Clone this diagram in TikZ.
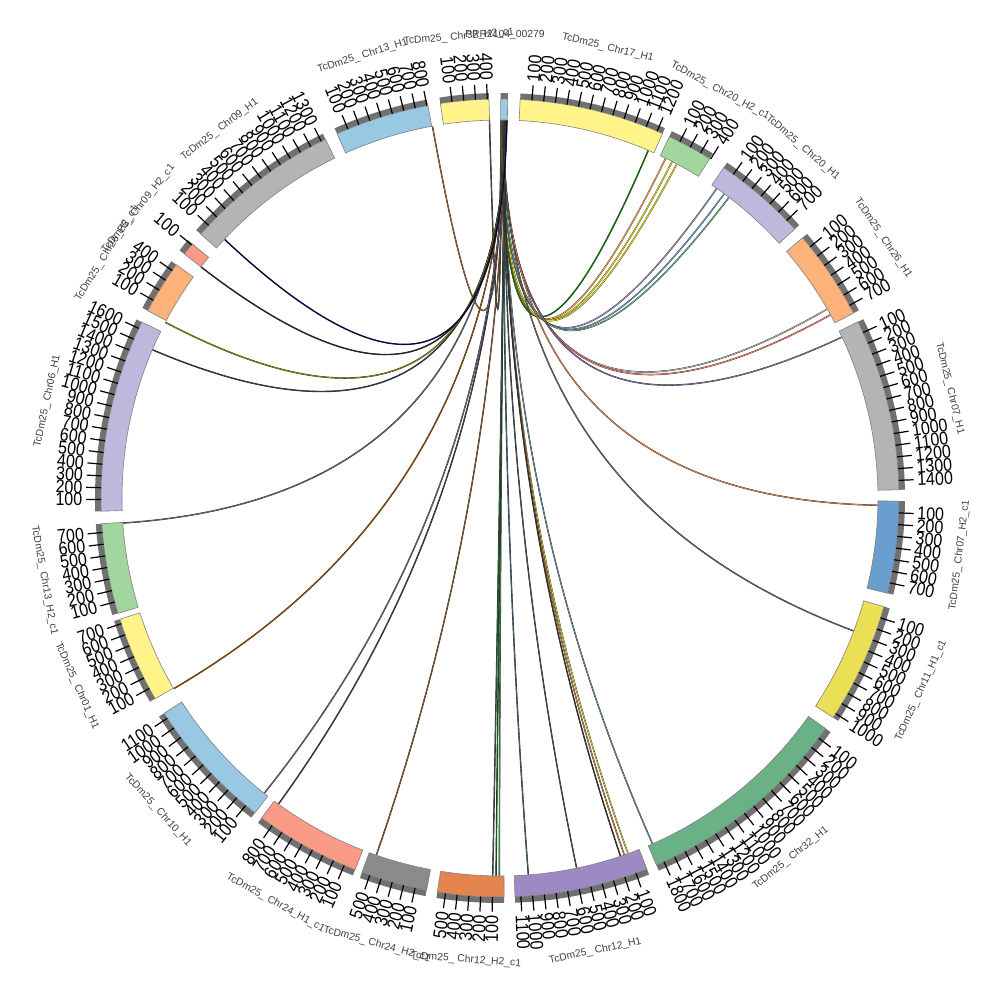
\documentclass[tikz,border=0pt]{standalone}
\usepackage{fontspec}
\setmainfont{Liberation Sans}
\newfontfamily\tickfont[FakeStretch=0.87]{Liberation Sans}

\definecolor{cprr}{HTML}{9DCAE3}
\definecolor{cyel}{HTML}{FFF38A}
\definecolor{cgrn}{HTML}{A1D79F}
\definecolor{clav}{HTML}{BDB9DC}
\definecolor{corg}{HTML}{FDB27A}
\definecolor{cgry}{HTML}{B4B4B4}
\definecolor{cblu}{HTML}{699ECF}
\definecolor{cmus}{HTML}{EADF55}
\definecolor{cdgn}{HTML}{6AB185}
\definecolor{cpur}{HTML}{9D89C3}
\definecolor{cred}{HTML}{E4844F}
\definecolor{cdgy}{HTML}{8B8B8B}
\definecolor{csal}{HTML}{FB9A86}
\definecolor{csky}{HTML}{98C8E2}
\definecolor{cband}{HTML}{707070}

\tikzset{
  seg/.style={draw=black!50, line width=0.6bp},
  band/.style={fill=cband},
  tickln/.style={line width=1.2bp, black},
  ticklab/.style={font=\tickfont\fontsize{18.5}{18.5}\selectfont, inner sep=0.5bp},
  chrlab/.style={font=\fontsize{10.4}{11}\selectfont, text=black!75, inner sep=0pt},
  link/.style={draw=black!85, line width=0.3bp, double=#1, double distance=0.8bp},
}

\begin{document}
\begin{tikzpicture}[x=1bp,y=1bp]
\fill[white] (-500,-502) rectangle (500,498);
\useasboundingbox (-500,-502) rectangle (500,498);
\def\degk{0.0169}

% links from PRR2104_00279
\foreach \tg/\lc [count=\i] in {
  100.3/brown!80!black, 91.6/black!70, 66.9/green!50!black, 64.0/orange!70,
  62.9/yellow!90!black, 62.1/yellow!90!black, 55.0/clav!80!black, 53.6/cblu,
  52.7/cdgn, 30.0/cgry, 29.0/csal!80!red, 25.2/cpur!80!black, -1.1/cred,
  -20.6/black!60, -66.2/csky!70!black, -70.2/cmus!90!black, -70.8/brown!70!orange,
  -71.4/black!80, -78.3/black!70, -85.7/cblu!60!black, -90.1/cdgn!70!black,
  -90.6/green!40!black, -91.1/cdgn!50!black, -109.1/brown!70!black, -125.9/black!75,
  -128.6/cpur!70!black, -149.7/orange!60!black, -176.2/black!60,
  156.9/cblu!40!black, 152.3/olive, 142.3/black!85, 136.8/blue!30!black}{
  \pgfmathsetmacro{\sa}{89.85-0.028*\i}
  \draw[link=\lc] (\sa:378) .. controls (\sa:126) and (\tg:126) .. (\tg:378);
}

% chromosome sectors
\foreach \st/\len/\nt/\col/\nm in {
  89.9/60/0/cprr/PRR2104\_00279,
  87.1/1250/12/cyel/TcDm25\_ Chr17\_H1,
  64.9/390/4/cgrn/TcDm25\_ Chr20\_H2\_c1,
  55.9/800/7/clav/TcDm25\_ Chr20\_H1,
  40.7/775/7/corg/TcDm25\_ Chr26\_H1,
  26.2/1480/14/cgry/TcDm25\_ Chr07\_H1,
  -0.45/790/7/cblu/TcDm25\_ Chr07\_H2\_c1,
  -15.8/1040/10/cmus/TcDm25\_ Chr11\_H1\_c1,
  -35.3/1870/18/cdgn/TcDm25\_ Chr32\_H1,
  -68.4/1150/11/cpur/TcDm25\_ Chr12\_H1,
  -89.4/570/5/cred/TcDm25\_ Chr12\_H2\_c1,
  -100.6/570/5/cdgy/TcDm25\_ Chr24\_H2\_c1,
  -111.3/910/8/csal/TcDm25\_ Chr24\_H1\_c1,
  -127.9/1150/11/csky/TcDm25\_ Chr10\_H1,
  -149.8/740/7/cyel/TcDm25\_ Chr01\_H1,
  -163.2/775/7/cgrn/TcDm25\_ Chr13\_H2\_c1,
  181.9/1660/16/clav/TcDm25\_ Chr06\_H1,
  152.0/460/4/corg/TcDm25\_ Chr26\_H2\_c1,
  142.3/110/1/csal/TcDm25\_ Chr09\_H2\_c1,
  138.6/1340/13/cgry/TcDm25\_ Chr09\_H1,
  114.1/810/8/csky/TcDm25\_ Chr13\_H1,
  98.6/415/4/cyel/TcDm25\_ Chr32\_H2\_c1}{
  \pgfmathsetmacro{\ea}{\st-\len*\degk}
  \pgfmathsetmacro{\ca}{(\st+\ea)/2}
  \fill[band] (\st:399) arc[start angle=\st, end angle=\ea, radius=399]
    -- (\ea:405) arc[start angle=\ea, end angle=\st, radius=405] -- cycle;
  \draw[seg, fill=\col] (\st:378) arc[start angle=\st, end angle=\ea, radius=378]
    -- (\ea:399) arc[start angle=\ea, end angle=\st, radius=399] -- cycle;
  \ifnum\nt>0
  \foreach \k in {1,...,\nt}{
    \pgfmathsetmacro{\ta}{\st-\k*100*\degk}
    \pgfmathtruncatemacro{\val}{\k*100}
    \draw[tickln] (\ta:399) -- (\ta:414);
    \pgfmathtruncatemacro{\rside}{cos(\ta)>=0 ? 1 : 0}
    \ifnum\rside=1
      \node[ticklab, rotate=\ta, anchor=west] at (\ta:417) {\val};
    \else
      \pgfmathsetmacro{\rot}{\ta+180}
      \node[ticklab, rotate=\rot, anchor=east] at (\ta:417) {\val};
    \fi
  }
  \fi
  \pgfmathsetmacro{\nrot}{sin(\ca)>=0 ? \ca-90 : \ca+90}
  \node[chrlab, rotate=\nrot] at (\ca:463) {\nm};
}
\end{tikzpicture}
\end{document}
